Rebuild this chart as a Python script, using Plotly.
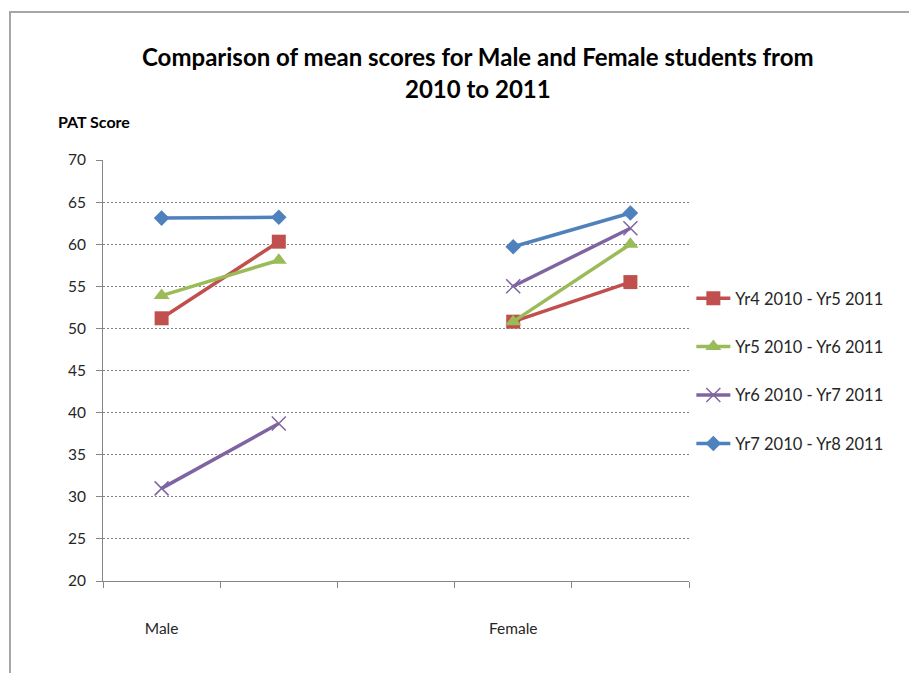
import plotly.graph_objects as go

categories = ["Male", "", "", "Female", ""]
series_names = ["Yr4 2010 - Yr5 2011", "Yr5 2010 - Yr6 2011", "Yr6 2010 - Yr7 2011", "Yr7 2010 - Yr8 2011"]
yr4_yr5 = [51.2, 60.3, None, 50.8, 55.5]
yr5_yr6 = [53.9, 58.1, None, 50.8, 60.0]
yr6_yr7 = [31.0, 38.7, None, 55.0, 61.9]
yr7_yr8 = [63.1, 63.2, None, 59.7, 63.7]

colors = ["#C0504D", "#9BBB59", "#8064A2", "#4F81BD"]
symbols = ["square", "triangle-up", "x-thin-open", "diamond"]
msizes = [14, 14, 14, 12]

FONT = "Lato, 'Liberation Sans', sans-serif"
TXT = "#262626"

x = list(range(len(categories)))
fig = go.Figure()
for i, (name, vals) in enumerate(zip(series_names, [yr4_yr5, yr5_yr6, yr6_yr7, yr7_yr8])):
    marker = dict(symbol=symbols[i], size=msizes[i], color=colors[i])
    if symbols[i] == "x-thin-open":
        marker["line"] = dict(color=colors[i], width=1.5)
    fig.add_trace(go.Scatter(
        x=x, y=vals, name=name, mode="lines+markers",
        line=dict(color=colors[i], width=3.5),
        marker=marker, connectgaps=False, legendgroup=f"g{i}",
    ))

label_pos = [i for i, c in enumerate(categories) if c]
fig.update_layout(
    width=909, height=673,
    margin=dict(l=103, r=220, t=160, b=92),
    paper_bgcolor="white", plot_bgcolor="white",
    font=dict(family=FONT, size=15, color=TXT),
    showlegend=True,
    legend=dict(x=1.004, xanchor="left", y=0.499, yanchor="middle",
                font=dict(size=16.5, color=TXT), tracegroupgap=24,
                itemwidth=34, bgcolor="rgba(0,0,0,0)"),
    xaxis=dict(range=[-0.5, 4.5], tickvals=label_pos,
               ticktext=[categories[i] for i in label_pos],
               ticks="", showgrid=False, showline=True, linecolor="#868686",
               linewidth=1, zeroline=False, ticklabelstandoff=33,
               tickfont=dict(size=15.5, color=TXT),
               minor=dict(tick0=-0.5, dtick=1, ticks="outside", ticklen=6,
                          tickcolor="#868686", showgrid=False)),
    yaxis=dict(range=[20, 70], dtick=5, tick0=20, showgrid=True,
               gridcolor="#808080", griddash="2px,2px", gridwidth=1,
               showline=True, linecolor="#868686", linewidth=1,
               ticks="outside", ticklen=6, tickcolor="#868686",
               zeroline=False, ticklabelstandoff=7,
               tickfont=dict(size=15.5, color=TXT)),
    annotations=[
        dict(text="<b>Comparison of mean scores for Male and Female students from</b>",
             xref="paper", yref="paper", x=(478 - 103) / 586, y=(581 - 56) / 421,
             xanchor="center", yanchor="middle", showarrow=False,
             font=dict(size=24, color="#000000", family=FONT)),
        dict(text="<b>2010 to 2011</b>",
             xref="paper", yref="paper", x=(478 - 103) / 586, y=(581 - 88) / 421,
             xanchor="center", yanchor="middle", showarrow=False,
             font=dict(size=24, color="#000000", family=FONT)),
        dict(text="<b>PAT Score</b>", xref="paper", yref="paper",
             x=(56 - 103) / 586, y=(581 - 122) / 421, xanchor="left", yanchor="middle",
             showarrow=False, font=dict(size=16, color="#000000", family=FONT)),
    ],
    shapes=[
        dict(type="rect", xref="paper", yref="paper",
             x0=(10 - 103) / 586, x1=(940 - 103) / 586,
             y0=(581 - 700) / 421, y1=(581 - 12) / 421,
             line=dict(color="#a6a6a6", width=2), fillcolor="rgba(0,0,0,0)", layer="below"),
    ],
)

fig.write_html("out.html")
